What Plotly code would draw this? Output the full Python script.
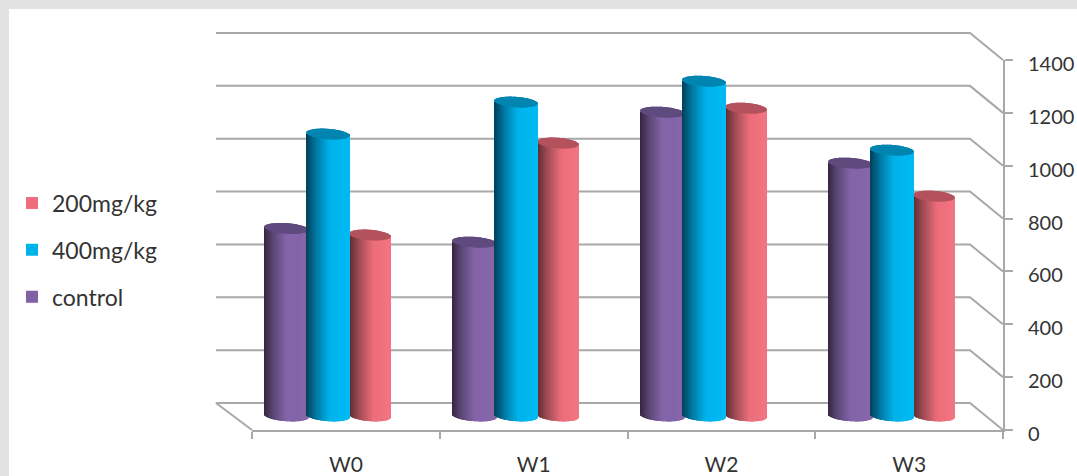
import numpy as np
import plotly.graph_objects as go

# Chart values
categories = ["W0", "W1", "W2", "W3"]
control = [710, 658, 1150, 957]
mg400 = [1067, 1188, 1267, 1006]
mg200 = [685, 1033, 1165, 832]
y_ticks = [0, 200, 400, 600, 800, 1000, 1200, 1400]

# Pixel layout: the outer frame holds the back wall, the inner one the real axes
W, H = 1077, 476
FRAME_L, FRAME_R, FRAME_T, FRAME_B = 200, 1040, 20, 440
LEFT, RIGHT, TOP, BOTTOM = 252, 1003, 60, 430
PX_PER_CAT = (RIGHT - LEFT) / len(categories)
UNITS_PER_PX = 1400 / (BOTTOM - TOP)


def paper_x(px):
    return (px - FRAME_L) / (FRAME_R - FRAME_L)


def paper_y(py):
    return (FRAME_B - py) / (FRAME_B - FRAME_T)


# Depth of the floor: back wall offset and the plane cylinders stand on
WALL_DY = 27 * UNITS_PER_PX
WALL_X0 = (216 - LEFT) / PX_PER_CAT
WALL_X1 = (970 - LEFT) / PX_PER_CAT
WALL_X2 = len(categories)
FLOOR = 14 * UNITS_PER_PX
ELLIPSE = 5.2 * UNITS_PER_PX
TILT = 1.5 * UNITS_PER_PX

GRID = "#a8a8a8"
TEXT = "#333333"
FONT = "Lato"

series = [
    dict(name="control", values=control, left=-81, width=44, rank=3, flat="#8061a5", cap="#5f4a7d",
         stops=[(0, "#352642"), (0.2, "#5a4672"), (0.5, "#8364a8"), (1, "#8766aa")]),
    dict(name="200mg/kg", values=mg200, left=4, width=41, rank=1, flat="#ee6f7b", cap="#b3525c",
         stops=[(0, "#5a2c30"), (0.25, "#a04c55"), (0.6, "#ed6e7a"), (1, "#f27581")]),
    dict(name="400mg/kg", values=mg400, left=-39, width=43, rank=2, flat="#00b2ea", cap="#0084b0",
         stops=[(0, "#003f58"), (0.25, "#007ba6"), (0.55, "#00b2ea"), (1, "#00bbf5")]),
]


def ramp(stops, u):
    """Interpolate a horizontal shading ramp at position u in 0..1."""
    pos = [s[0] for s in stops]
    rgb = [[int(s[1][i:i + 2], 16) for i in (1, 3, 5)] for s in stops]
    return "rgb({},{},{})".format(*[int(np.interp(u, pos, [c[k] for c in rgb])) for k in range(3)])


fig = go.Figure()

# Back wall gridlines with their return to the front axis
for v in y_ticks:
    back = v + WALL_DY
    xs = [WALL_X0, WALL_X1, WALL_X2]
    ys = [back, back, v]
    if v == 0:
        xs = [0] + xs
        ys = [0] + ys
    fig.add_trace(go.Scatter(x=xs, y=ys, mode="lines", showlegend=False,
                             hoverinfo="skip", line=dict(color=GRID, width=2)))

# Each cylinder: a flat bar for the value, vertical shading strips, and an elliptical top
for s in series:
    offset = s["left"] / PX_PER_CAT
    width = s["width"] / PX_PER_CAT
    fig.add_trace(go.Bar(name=s["name"], legendgroup=s["name"], legendrank=s["rank"],
                         x=categories, y=s["values"],
                         base=[FLOOR] * len(categories), offset=offset, width=width,
                         marker=dict(color=s["flat"], line=dict(width=0)),
                         xaxis="x2", yaxis="y2"))
    n = s["width"]
    sx, body_y, body_b, body_c, cap_y, cap_b = [], [], [], [], [], []
    offs = []
    for cat, val in zip(categories, s["values"]):
        for i in range(n):
            t = -1 + (2 * i + 1) / n
            e = ELLIPSE * np.sqrt(1 - t * t)
            lean = -TILT * t
            bottom = FLOOR + lean - e
            top = FLOOR + val + lean
            sx.append(cat)
            offs.append(offset + i / PX_PER_CAT)
            body_b.append(bottom)
            body_y.append(top - e - bottom)
            body_c.append(ramp(s["stops"], (t + 1) / 2))
            cap_b.append(top - e)
            cap_y.append(2 * e)
    strip = 1 / PX_PER_CAT
    fig.add_trace(go.Bar(x=sx, y=body_y, base=body_b, offset=offs, width=strip,
                         marker=dict(color=body_c, line=dict(width=0)),
                         xaxis="x2", yaxis="y2", showlegend=False, hoverinfo="skip",
                         legendgroup=s["name"]))
    fig.add_trace(go.Bar(x=sx, y=cap_y, base=cap_b, offset=offs, width=strip,
                         marker=dict(color=s["cap"], line=dict(width=0)),
                         xaxis="x2", yaxis="y2", showlegend=False, hoverinfo="skip",
                         legendgroup=s["name"]))

fig.update_layout(
    width=W,
    height=H,
    margin=dict(l=FRAME_L, r=W - FRAME_R, t=FRAME_T, b=H - FRAME_B, autoexpand=False),
    paper_bgcolor="white",
    plot_bgcolor="rgba(0,0,0,0)",
    barmode="overlay",
    font=dict(family=FONT, size=20, color=TEXT),
    # Hidden frame in the same units as the visible axes, for the wall lines
    xaxis=dict(domain=[0, 1], visible=False, fixedrange=True,
               range=[(FRAME_L - LEFT) / PX_PER_CAT, (FRAME_R - LEFT) / PX_PER_CAT]),
    yaxis=dict(domain=[0, 1], visible=False, fixedrange=True,
               range=[(BOTTOM - FRAME_B) * UNITS_PER_PX, (BOTTOM - FRAME_T) * UNITS_PER_PX]),
    xaxis2=dict(type="category", categoryorder="array", categoryarray=categories,
                domain=[paper_x(LEFT), paper_x(RIGHT)], side="bottom", anchor="y2",
                range=[-0.5, len(categories) - 0.5], tickson="boundaries",
                ticks="outside", ticklen=7, tickwidth=2, tickcolor=GRID,
                showline=True, linecolor=GRID, linewidth=2, showgrid=False,
                ticklabelstandoff=15, tickfont=dict(family=FONT, size=21, color=TEXT)),
    yaxis2=dict(domain=[paper_y(BOTTOM), paper_y(TOP)], range=[0, 1400], tickvals=y_ticks,
                side="right", anchor="x2",
                ticks="outside", ticklen=8, tickwidth=2, tickcolor=GRID,
                showline=True, linecolor=GRID, linewidth=2, showgrid=False, zeroline=False,
                ticklabelstandoff=11, ticklabelshift=4,
                tickfont=dict(family=FONT, size=20, color=TEXT)),
    legend=dict(x=paper_x(12), xanchor="left", y=paper_y(250), yanchor="middle",
                traceorder="grouped", tracegroupgap=14,
                font=dict(family=FONT, size=23, color=TEXT),
                bgcolor="rgba(0,0,0,0)"),
    shapes=[
        dict(type="rect", xref="paper", yref="paper", layer="below", line=dict(width=0),
             fillcolor="#e2e2e2", x0=paper_x(0), x1=paper_x(9), y0=paper_y(H), y1=paper_y(0)),
        dict(type="rect", xref="paper", yref="paper", layer="below", line=dict(width=0),
             fillcolor="#e2e2e2", x0=paper_x(0), x1=paper_x(W), y0=paper_y(9), y1=paper_y(0)),
    ],
)

fig.write_html("out.html")
